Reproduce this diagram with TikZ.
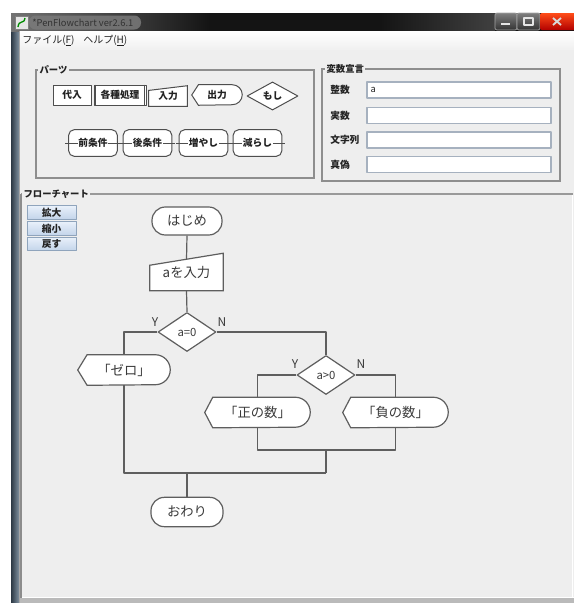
\documentclass[tikz,border=0pt]{standalone}
\usepackage{fontspec}
\setmainfont{Noto Sans CJK JP}
\usetikzlibrary{shapes.geometric}
\pgfdeclarelayer{bg}
\pgfdeclarelayer{shp}
\pgfsetlayers{bg,shp,main}
\definecolor{lc}{HTML}{5E5E5E}
\definecolor{panel}{HTML}{EEEEEE}
\definecolor{grp}{HTML}{8E8E8E}
\definecolor{txt}{HTML}{3A3A3A}
\definecolor{ptxt}{HTML}{222222}
\definecolor{fieldb}{HTML}{A6B1BF}
\definecolor{btnb}{HTML}{8FA4BC}
\definecolor{btnt}{HTML}{E8F0FA}
\definecolor{btnbot}{HTML}{C3D4EA}
\definecolor{tbar}{HTML}{141414}
\definecolor{tglow}{HTML}{7A7A7A}
\definecolor{frameA}{HTML}{2C3844}
\definecolor{frameB}{HTML}{7F909F}
\newcommand\fcf{\fontsize{10}{12}\selectfont}
\newcommand\fdm{\fontsize{8.5}{10}\selectfont}
\newcommand\fyn{\fontsize{9}{10}\selectfont}
\newcommand\fpt{\fontsize{7.3}{8}\selectfont\bfseries}
\newcommand\fgr{\fontsize{7}{8}\selectfont\bfseries}
\newcommand\fmn{\fontsize{7.5}{9}\selectfont}
\newcommand\fti{\fontsize{7}{8}\selectfont}
% #1 node, #2 point inset, #3 radius, #4 style
\newcommand\dispshape[4]{%
  \draw[#4,fill=white] (#1.west) -- ([xshift=#2]#1.north west) --
    ([xshift=-#3]#1.north east) arc[start angle=90,end angle=-90,radius=#3] --
    ([xshift=#2]#1.south west) -- cycle;}
\begin{document}
\begin{tikzpicture}[x=0.75pt,y=-0.75pt,line join=round,
  fl/.style={draw=lc,line width=0.9pt},
  pl/.style={draw=ptxt!80,line width=0.75pt},
  term/.style={draw=lc,line width=0.9pt,fill=white,rounded corners=10pt,inner sep=0pt,font=\fcf,text=txt},
  dec/.style={diamond,draw=lc,line width=0.9pt,fill=white,inner sep=0pt,minimum width=43.5pt,minimum height=29.25pt,font=\fdm,text=txt},
  fbox/.style={inner sep=0pt,font=\fcf,text=txt},
  yn/.style={font=\fyn,text=txt,inner sep=0pt},
  pbox/.style={inner sep=0pt,font=\fpt,text=ptxt,minimum height=15pt},
  lpb/.style={inner sep=0pt,minimum width=36pt,minimum height=19.5pt},
  lpt/.style={inner sep=0.6pt,fill=white,font=\fpt,text=ptxt},
  gtitle/.style={anchor=west,inner sep=1pt,fill=panel,font=\fgr,text=ptxt},
  vlab/.style={anchor=west,inner sep=0pt,font=\fpt,text=ptxt},
  fld/.style={draw=fieldb,line width=0.8pt,fill=white,minimum width=138pt,minimum height=12pt,inner sep=0pt},
  zbtn/.style={draw=btnb,line width=0.6pt,top color=btnt,bottom color=btnbot,minimum width=36.75pt,minimum height=10pt,inner sep=0pt,font=\fpt,text=ptxt}]
\useasboundingbox (0,0) rectangle (574,603);
\begin{pgfonlayer}{bg}
  \fill[white] (0,0) rectangle (574,603);
  % window frame
  \shade[left color=frameA,right color=frameB] (11,13) rectangle (19,603);
  \fill[tbar] (11,13) rectangle (574,31);
  \shade[left color=black!55,right color=tbar] (11,13) rectangle (210,31);
  \shade[left color=tbar,right color=black!75] (380,13) rectangle (495,31);
  \shade[top color=white,bottom color=black!6] (19,31) rectangle (574,50);
  \fill[panel] (19,50) rectangle (574,597);
  \fill[white] (19,597) rectangle (574,598);
  \fill[black!27] (19,598) rectangle (574,603);
  \draw[black!35,line width=0.6pt] (19.5,31) -- (19.5,603);
  % group boxes
  \draw[grp,line width=0.9pt] (36,70) rectangle (314,178);
  \draw[grp,line width=0.9pt] (322,69) rectangle (560,181);
  \draw[black!40,line width=1.2pt] (21,194) -- (573,194);
  \draw[black!45,line width=0.8pt] (21,194) -- (21,598);
  \draw[white,line width=0.8pt] (572.5,195) -- (572.5,597);
\end{pgfonlayer}

% title bar content
\fill[tglow,rounded corners=5pt,opacity=0.85] (29,15.5) rectangle (141,29.5);
\fill[black!10] (15,16) rectangle (28,29);
\draw[black!50,line width=0.5pt] (15,16) rectangle (28,29);
\draw[green!55!black,line width=1pt] (18,27) .. controls (19,19) and (24,25) .. (25,18);
\node[anchor=west,font=\fti,text=black!80,inner sep=0pt] (title) at (32,22.5) {*PenFlowchart ver2.6.1};
\shade[top color=black!50,bottom color=black!80,rounded corners=1.5pt] (495,13) rectangle (517,30);
\draw[black!35,line width=0.5pt,rounded corners=1.5pt] (495,13) rectangle (517,30);
\fill[white!90!black] (501,22.5) rectangle (510,25);
\shade[top color=black!50,bottom color=black!80,rounded corners=1.5pt] (517,13) rectangle (540,30);
\draw[black!35,line width=0.5pt,rounded corners=1.5pt] (517,13) rectangle (540,30);
\draw[white!90!black,line width=1pt] (524,18) rectangle (533,25);
\shade[top color=red!55!orange!90,bottom color=red!70!black,rounded corners=1.5pt] (540,13) rectangle (576,30);
\draw[white!85!black,line width=1.4pt] (553,18) -- (561,25) (553,25) -- (561,18);

% menu
\node[anchor=west,font=\fmn,text=ptxt,inner sep=0pt] (mfile) at (22,41) {ファイル(\underline{F})};
\node[anchor=west,font=\fmn,text=ptxt,inner sep=0pt] (mhelp) at (83,41) {ヘルプ(\underline{H})};

% group titles
\node[gtitle] (gparts) at (38,70) {パーツ};
\node[gtitle] (gvars) at (325,69) {変数宣言};
\node[gtitle] (gflow) at (22,194) {フローチャート};

% parts palette
\node[pbox,pl,fill=white,minimum width=28.5pt] (p1) at (72,95) {代入};
\node[pbox,pl,fill=white,minimum width=39pt] (p2) at (120,95) {各種処理};
\draw[pl] ([xshift=1.6pt]p2.north west) -- ([xshift=1.6pt]p2.south west);
\draw[pl] ([xshift=-1.6pt]p2.north east) -- ([xshift=-1.6pt]p2.south east);
\node[pbox,minimum width=28.5pt] (p3) at (168,96) {入力};
\node[pbox,minimum width=37.5pt] (p4) at (217,95) {出力};
\node[diamond,pl,fill=white,inner sep=0pt,minimum width=38.25pt,minimum height=15pt,font=\fpt,text=ptxt] (p5) at (272.5,96) {もし};
\node[lpb] (q1) at (93,143) {};
\node[lpb] (q2) at (147.5,143) {};
\node[lpb] (q3) at (203.5,143) {};
\node[lpb] (q4) at (257.5,143) {};
\node[lpt] (q1t) at (q1) {前条件};
\node[lpt] (q2t) at (q2) {後条件};
\node[lpt] (q3t) at (q3) {増やし};
\node[lpt] (q4t) at (q4) {減らし};

% variable declarations
\node[vlab] (v1) at (330,90) {整数};
\node[vlab] (v2) at (330,115.5) {実数};
\node[vlab] (v3) at (330,140) {文字列};
\node[vlab] (v4) at (330,164.5) {真偽};
\node[fld] (f1) at (459,90) {};
\node[fld] (f2) at (459,115.5) {};
\node[fld] (f3) at (459,140) {};
\node[fld] (f4) at (459,164.5) {};
\node[anchor=west,inner sep=0pt,font=\fti,text=ptxt] (fa) at ([xshift=3pt]f1.west) {a};

% zoom buttons
\node[zbtn] (bz1) at (51.5,212.5) {拡大};
\node[zbtn] (bz2) at (51.5,228.5) {縮小};
\node[zbtn] (bz3) at (51.5,244) {戻す};

% flowchart
\node[term,minimum width=52.5pt,minimum height=21pt] (start) at (187,221) {はじめ};
\node[fbox,minimum width=54.75pt,minimum height=27.75pt] (inp) at (186.5,272) {aを入力};
\node[dec] (d1) at (187,332) {a=0};
\node[fbox,minimum width=69pt,minimum height=22.5pt] (zero) at (124,370) {「ゼロ」};
\node[dec] (d2) at (326,375) {a>0};
\node[fbox,minimum width=78.75pt,minimum height=22.5pt] (pos) at (257.5,412.5) {「正の数」};
\node[fbox,minimum width=78.75pt,minimum height=22.5pt] (neg) at (395.5,412.5) {「負の数」};
\node[term,minimum width=54pt,minimum height=22pt] (stop) at (187,512) {おわり};
\node[yn] (y1) at (155,322) {Y};
\node[yn] (n1) at (222,322) {N};
\node[yn] (y2) at (295,364) {Y};
\node[yn] (n2) at (361,364) {N};
\coordinate (j2) at (326,450);
\coordinate (jr) at (326,473);
\coordinate (j1) at (187,473);

\begin{pgfonlayer}{shp}
  \draw[fl,fill=white] (inp.south west) -- (inp.south east) -- (inp.north east) -- ([yshift=-9pt]inp.north west) -- cycle;
  \dispshape{zero}{7pt}{11.25pt}{fl}
  \dispshape{pos}{6pt}{11.25pt}{fl}
  \dispshape{neg}{6pt}{11.25pt}{fl}
  \draw[pl,fill=white] (p3.south west) -- (p3.south east) -- (p3.north east) -- ([yshift=-3.5pt]p3.north west) -- cycle;
  \dispshape{p4}{5pt}{7.5pt}{pl}
  \foreach \q in {q1,q2,q3,q4}{
    \draw[pl,fill=white,rounded corners=4pt] (\q.south west) rectangle (\q.north east);
    \draw[pl] ([xshift=-2.5pt]\q.west) -- ([xshift=2.5pt]\q.east);
  }
\end{pgfonlayer}

\draw[fl] (start.south) -- ([yshift=-4.5pt]inp.north);
\draw[fl] (inp.south) -- (d1.north);
\draw[fl] (d1.west) -| (zero.north);
\draw[fl] (d1.east) -| (d2.north);
\draw[fl] (d2.west) -| (pos.north);
\draw[fl] (d2.east) -| (neg.north);
\draw[fl] (pos.south) |- (j2) -| (neg.south);
\draw[fl] (j2) -- (jr);
\draw[fl] (zero.south) |- (jr);
\draw[fl] (j1) -- (stop.north);
\end{tikzpicture}
\end{document}
